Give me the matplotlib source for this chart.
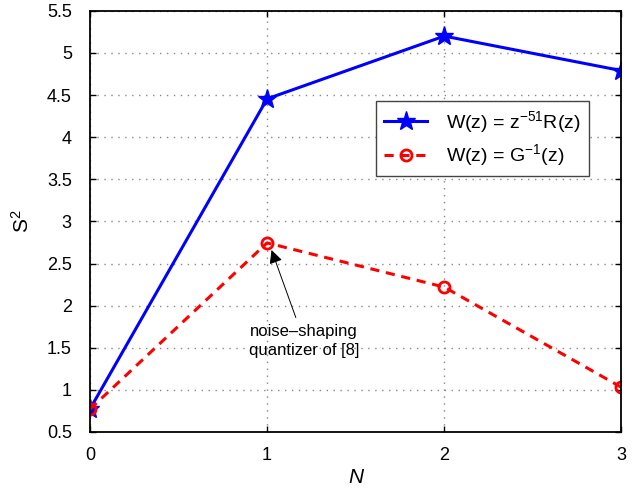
import numpy as np
import matplotlib.pyplot as plt

plt.rcParams['font.family'] = ['Liberation Sans', 'DejaVu Sans']
plt.rcParams['mathtext.fontset'] = 'custom'
plt.rcParams['mathtext.rm'] = 'Liberation Sans'
plt.rcParams['mathtext.it'] = 'Liberation Sans:italic'

# data
N = [0, 1, 2, 3]
s2_r = [0.77, 4.455, 5.20, 4.79]   # W(z) = z^-51 R(z)
s2_g = [0.77, 2.745, 2.22, 1.03]   # W(z) = G^-1(z)

fig = plt.figure(figsize=(6.42, 4.92), dpi=100)
ax = fig.add_axes([0.140, 0.122, 0.828, 0.856])

ax.plot(N, s2_r, '-', color='blue', lw=2.2, marker='*', ms=14,
        label=r'W(z) = z$^{-51}$R(z)')
ax.plot(N, s2_g, color='red', lw=2.2, ls=(0, (3, 2.2)), marker='o', ms=8,
        mfc='none', mew=2, label=r'W(z) = G$^{-1}$(z)')

ax.set_xlim(0, 3)
ax.set_ylim(0.5, 5.5)
ax.set_xticks([0, 1, 2, 3])
ax.set_yticks(np.arange(0.5, 5.51, 0.5))
ax.set_yticklabels(['0.5', '1', '1.5', '2', '2.5', '3', '3.5', '4', '4.5', '5', '5.5'])
ax.tick_params(direction='in', labelsize=13, length=4, width=1, pad=11,
               top=True, right=True)
ax.tick_params(axis='y', pad=13)
ax.grid(True, linestyle=(0, (1, 4)), color='#888888', lw=1)
for sp in ax.spines.values():
    sp.set_linewidth(1.3)

ax.set_xlabel('N', fontsize=15, style='italic', labelpad=3)
ax.set_ylabel(r'S$^2$', fontsize=15, labelpad=10)

leg = ax.legend(loc='upper left', bbox_to_anchor=(0.539, 0.786), borderaxespad=0,
                fontsize=14, fancybox=False, edgecolor='#444444', framealpha=1,
                handlelength=2.2, borderpad=0.4, labelspacing=0.4,
                handletextpad=1.0)
leg.get_frame().set_linewidth(1.0)

ax.annotate('noise\u2013shaping\nquantizer of [8]', xy=(1.025, 2.66), xytext=(1.21, 1.58),
            ha='center', va='center', fontsize=12, linespacing=1.3,
            arrowprops=dict(arrowstyle='-|>', color='black', lw=0.7,
                            mutation_scale=20, shrinkA=3, shrinkB=0))

fig.savefig('out.png', dpi=100)
